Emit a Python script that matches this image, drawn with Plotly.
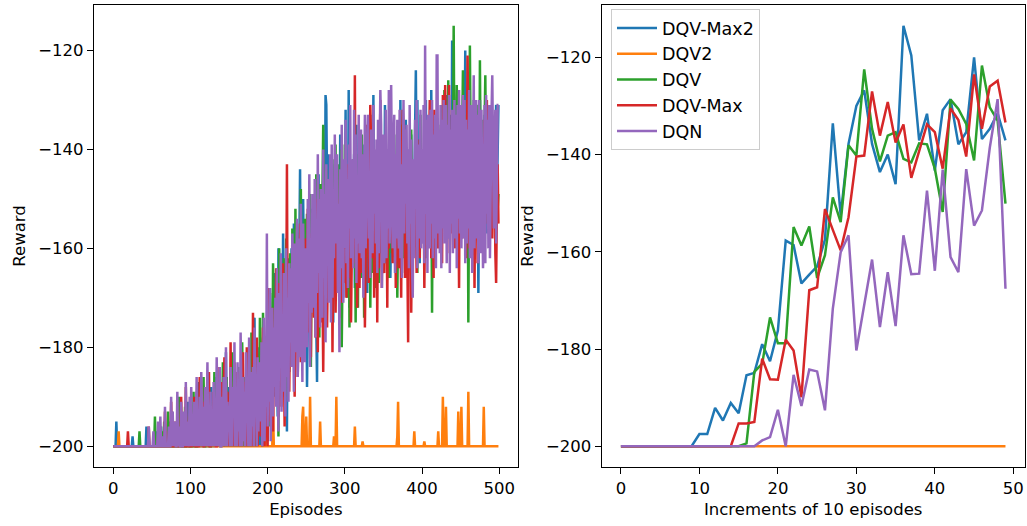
import plotly.graph_objects as go

# ---------------- data: left panel (per-episode reward, 500 episodes) ----------------
episodes = list(range(500))

dqv_max2_ep = [
    -200, -200, -200, -200, -195, -200, -200, -200, -200, -200,
    -200, -200, -200, -200, -200, -200, -200, -200, -200, -200,
    -200, -200, -200, -200, -200, -198, -200, -200, -200, -200,
    -200, -200, -200, -200, -200, -200, -200, -200, -200, -200,
    -200, -200, -200, -196, -200, -200, -200, -200, -200, -200,
    -200, -200, -200, -200, -200, -200, -197, -200, -200, -200,
    -200, -200, -196, -200, -200, -200, -200, -198, -200, -200,
    -200, -200, -200, -195, -200, -200, -193, -200, -200, -200,
    -200, -197, -200, -200, -200, -192, -200, -200, -196, -200,
    -200, -200, -194, -200, -200, -199, -200, -191, -200, -200,
    -200, -195, -200, -198, -200, -193, -200, -200, -189, -200,
    -200, -187, -200, -196, -200, -200, -192, -200, -198, -200,
    -194, -200, -200, -190, -200, -197, -200, -188, -200, -200,
    -200, -192, -186, -200, -195, -200, -199, -200, -191, -200,
    -200, -196, -200, -184, -198, -200, -181, -200, -193, -200,
    -188, -200, -195, -200, -190, -186, -200, -197, -200, -192,
    -200, -185, -200, -191, -197, -200, -183, -200, -189, -195,
    -200, -193, -187, -200, -182, -200, -196, -190, -200, -186,
    -191, -200, -185, -174, -200, -189, -196, -180, -200, -194,
    -187, -200, -183, -192, -178, -200, -186, -190, -195, -181,
    -199, -176, -188, -168, -185, -192, -172, -183, -165, -190,
    -178, -186, -170, -194, -160, -181, -175, -188, -169, -183,
    -157, -174, -190, -166, -182, -197, -171, -162, -185, -176,
    -168, -160, -179, -173, -155, -184, -167, -175, -162, -180,
    -177, -158, -144, -171, -163, -183, -150, -166, -174, -159,
    -162, -188, -170, -155, -149, -176, -165, -152, -169, -160,
    -171, -156, -164, -178, -187, -159, -145, -168, -154, -162,
    -158, -167, -150, -173, -162, -129, -131, -148, -141, -160,
    -152, -170, -163, -146, -158, -175, -154, -143, -166, -150,
    -145, -161, -153, -168, -137, -157, -149, -163, -170, -151,
    -156, -132, -165, -150, -160, -128, -172, -153, -147, -163,
    -149, -159, -141, -168, -152, -135, -157, -163, -144, -158,
    -161, -147, -155, -139, -166, -150, -158, -143, -153, -169,
    -140, -158, -151, -133, -163, -145, -154, -129, -160, -148,
    -152, -166, -143, -157, -138, -149, -161, -146, -155, -142,
    -147, -156, -131, -150, -163, -141, -152, -158, -134, -166,
    -155, -139, -160, -148, -153, -144, -162, -150, -137, -157,
    -141, -163, -130, -156, -136, -158, -145, -152, -165, -134,
    -160, -146, -153, -140, -158, -149, -137, -161, -150, -144,
    -148, -135, -124, -145, -130, -152, -140, -163, -155, -142,
    -151, -143, -159, -137, -148, -130, -155, -146, -139, -158,
    -139, -154, -128, -160, -136, -149, -142, -157, -133, -150,
    -147, -138, -152, -141, -158, -135, -149, -144, -153, -140,
    -136, -150, -129, -143, -155, -139, -147, -133, -152, -118,
    -144, -132, -149, -138, -156, -141, -135, -150, -146, -137,
    -140, -153, -135, -148, -131, -145, -120, -151, -138, -143,
    -149, -136, -144, -158, -133, -142, -151, -139, -147, -134,
    -137, -152, -141, -169, -146, -130, -144, -155, -138, -149,
    -145, -133, -150, -140, -157, -136, -148, -142, -153, -139,
    -141, -148, -135, -152, -144, -139, -131, -150, -137, -131,
]

dqv2_ep = [
    -200, -200, -200, -200, -200, -200, -200, -197, -200, -200, -200, -200, -200, -200, -200, -200, -200, -200, -200, -200,
    -200, -200, -200, -200, -200, -200, -200, -200, -200, -200, -200, -200, -200, -200, -200, -200, -200, -200, -200, -200,
    -200, -200, -200, -200, -200, -200, -200, -200, -200, -200, -200, -200, -200, -200, -200, -200, -200, -200, -200, -200,
    -200, -200, -200, -200, -200, -200, -200, -200, -200, -200, -200, -200, -200, -200, -200, -200, -200, -200, -200, -200,
    -200, -200, -200, -200, -200, -200, -200, -200, -200, -200, -200, -200, -200, -200, -200, -200, -200, -200, -200, -200,
    -200, -200, -200, -200, -200, -200, -200, -200, -200, -200, -200, -200, -200, -200, -200, -200, -200, -200, -200, -200,
    -200, -200, -200, -200, -200, -200, -200, -200, -200, -200, -200, -200, -200, -200, -200, -200, -200, -200, -200, -200,
    -200, -200, -200, -200, -200, -200, -200, -200, -200, -200, -200, -200, -200, -200, -200, -200, -200, -200, -200, -200,
    -200, -200, -200, -200, -200, -200, -200, -200, -200, -200, -200, -200, -200, -200, -200, -200, -200, -200, -200, -200,
    -200, -200, -200, -200, -200, -200, -200, -200, -200, -200, -200, -200, -200, -200, -200, -200, -200, -195, -200, -200,
    -200, -200, -200, -200, -200, -200, -200, -192, -200, -200, -200, -200, -200, -200, -200, -200, -200, -200, -200, -200,
    -200, -200, -200, -200, -200, -200, -200, -200, -200, -200, -200, -200, -200, -200, -200, -200, -200, -200, -200, -200,
    -200, -200, -200, -200, -200, -194, -192, -200, -200, -200, -194, -200, -200, -200, -200, -190, -200, -200, -200, -200,
    -200, -200, -200, -200, -200, -200, -200, -200, -195, -200, -200, -200, -200, -200, -200, -200, -200, -200, -200, -200,
    -200, -200, -200, -200, -200, -200, -198, -200, -200, -190, -200, -200, -200, -200, -200, -200, -200, -200, -200, -200,
    -200, -200, -200, -200, -200, -200, -200, -200, -200, -200, -200, -200, -200, -196, -200, -200, -200, -200, -200, -200,
    -200, -200, -200, -199, -200, -200, -200, -200, -200, -200, -200, -200, -200, -200, -200, -200, -200, -200, -200, -200,
    -200, -200, -200, -200, -200, -200, -200, -200, -200, -200, -200, -200, -200, -200, -200, -200, -200, -200, -200, -200,
    -200, -200, -200, -200, -200, -200, -200, -200, -198, -191, -200, -200, -200, -200, -200, -200, -200, -200, -200, -200,
    -200, -200, -200, -200, -200, -200, -200, -200, -200, -200, -197, -200, -200, -200, -200, -200, -200, -200, -200, -200,
    -200, -200, -200, -199, -200, -200, -200, -200, -200, -200, -200, -200, -200, -200, -200, -200, -200, -200, -200, -200,
    -200, -197, -200, -200, -200, -200, -200, -190, -200, -200, -200, -192, -200, -200, -200, -200, -200, -200, -200, -200,
    -200, -200, -200, -200, -200, -200, -200, -193, -200, -200, -200, -192, -200, -200, -200, -200, -200, -200, -200, -200,
    -189, -200, -200, -200, -200, -200, -200, -200, -200, -200, -200, -200, -200, -200, -200, -200, -200, -200, -200, -200,
    -192, -200, -200, -200, -200, -200, -200, -200, -200, -200, -200, -200, -200, -200, -200, -200, -200, -200, -200, -200,
]

dqv_ep = [
    -200, -200, -200, -200, -200, -200, -200, -200, -200, -200,
    -200, -200, -200, -200, -200, -200, -200, -200, -200, -200,
    -200, -200, -200, -200, -200, -200, -200, -200, -200, -200,
    -200, -200, -200, -200, -197, -200, -200, -200, -200, -200,
    -200, -200, -200, -200, -200, -200, -200, -200, -200, -200,
    -200, -200, -200, -200, -194, -200, -200, -200, -200, -200,
    -200, -200, -200, -197, -200, -200, -195, -200, -200, -200,
    -200, -193, -200, -200, -198, -200, -200, -200, -196, -200,
    -200, -200, -195, -200, -200, -190, -200, -198, -200, -200,
    -197, -200, -200, -192, -200, -200, -199, -200, -194, -200,
    -200, -196, -200, -200, -189, -200, -193, -200, -200, -197,
    -200, -190, -200, -195, -200, -199, -200, -186, -200, -200,
    -193, -200, -197, -200, -188, -200, -200, -194, -200, -191,
    -200, -185, -200, -196, -200, -190, -198, -200, -187, -200,
    -195, -200, -183, -200, -199, -192, -200, -186, -200, -197,
    -200, -189, -194, -200, -181, -200, -195, -200, -188, -200,
    -192, -200, -184, -197, -200, -187, -200, -179, -196, -200,
    -186, -199, -200, -182, -193, -200, -188, -195, -200, -177,
    -200, -190, -176, -196, -185, -200, -181, -198, -187, -193,
    -174, -195, -188, -200, -173, -186, -197, -180, -192, -184,
    -190, -178, -196, -169, -184, -175, -192, -163, -181, -188,
    -171, -186, -165, -179, -198, -160, -176, -184, -168, -174,
    -183, -162, -175, -190, -158, -170, -186, -166, -179, -161,
    -168, -177, -156, -172, -164, -187, -152, -175, -166, -180,
    -159, -170, -181, -148, -167, -157, -176, -163, -154, -172,
    -165, -153, -176, -161, -170, -149, -184, -158, -167, -156,
    -151, -168, -160, -145, -173, -163, -155, -178, -147, -162,
    -160, -149, -135, -166, -153, -171, -144, -158, -163, -150,
    -146, -162, -155, -170, -142, -157, -164, -151, -139, -168,
    -158, -143, -165, -152, -160, -140, -180, -155, -149, -162,
    -139, -156, -147, -170, -153, -144, -176, -151, -161, -148,
    -157, -142, -163, -150, -175, -146, -158, -172, -141, -155,
    -148, -166, -137, -158, -151, -174, -145, -160, -153, -143,
    -162, -150, -144, -172, -156, -139, -165, -149, -157, -168,
    -145, -158, -152, -141, -167, -155, -133, -160, -147, -153,
    -159, -138, -155, -148, -163, -143, -151, -166, -140, -157,
    -150, -161, -145, -156, -137, -158, -147, -154, -170, -143,
    -141, -155, -160, -135, -152, -146, -162, -139, -157, -149,
    -156, -144, -150, -163, -141, -158, -136, -153, -147, -161,
    -146, -159, -137, -152, -165, -142, -155, -148, -133, -157,
    -153, -140, -158, -145, -150, -162, -138, -156, -143, -149,
    -144, -157, -147, -173, -139, -153, -148, -160, -142, -151,
    -158, -135, -150, -143, -156, -131, -152, -140, -147, -128,
    -139, -152, -145, -158, -126, -149, -137, -154, -143, -150,
    -148, -115, -142, -136, -151, -127, -145, -139, -132, -153,
    -143, -150, -138, -124, -147, -141, -156, -133, -149, -136,
    -175, -145, -119, -140, -152, -137, -148, -130, -144, -141,
    -138, -152, -144, -131, -155, -122, -146, -139, -150, -134,
    -147, -136, -125, -143, -151, -140, -133, -148, -137, -145,
    -142, -139, -151, -135, -146, -143, -138, -147, -152, -149,
]

dqv_max_ep = [
    -200, -200, -200, -200, -200, -200, -200, -200, -200, -200,
    -200, -200, -200, -200, -200, -200, -200, -200, -200, -197,
    -200, -200, -200, -200, -200, -200, -200, -200, -200, -200,
    -200, -200, -200, -200, -200, -200, -200, -200, -200, -200,
    -200, -200, -200, -200, -200, -200, -196, -200, -200, -200,
    -200, -200, -200, -200, -200, -200, -200, -200, -198, -200,
    -200, -196, -200, -200, -200, -200, -200, -193, -200, -200,
    -200, -200, -197, -200, -200, -191, -200, -200, -200, -195,
    -200, -200, -200, -194, -200, -200, -198, -200, -190, -200,
    -200, -196, -200, -200, -188, -200, -200, -195, -200, -200,
    -193, -200, -200, -197, -200, -190, -200, -200, -194, -200,
    -200, -200, -186, -200, -196, -200, -191, -200, -200, -188,
    -200, -193, -200, -199, -185, -200, -200, -192, -197, -200,
    -189, -200, -196, -200, -200, -184, -200, -195, -200, -191,
    -200, -187, -200, -193, -182, -200, -198, -200, -189, -200,
    -196, -200, -179, -200, -191, -197, -200, -183, -200, -193,
    -200, -185, -195, -200, -188, -200, -192, -200, -181, -198,
    -187, -200, -196, -180, -200, -190, -199, -185, -200, -194,
    -200, -173, -192, -200, -186, -197, -178, -200, -190, -195,
    -184, -198, -189, -200, -176, -193, -200, -187, -182, -196,
    -200, -168, -186, -195, -179, -190, -172, -197, -183, -176,
    -188, -164, -180, -173, -194, -167, -185, -178, -192, -170,
    -163, -181, -196, -168, -176, -143, -182, -171, -189, -174,
    -177, -166, -184, -159, -172, -190, -165, -179, -161, -186,
    -169, -175, -155, -183, -163, -178, -160, -171, -180, -158,
    -165, -172, -152, -177, -168, -160, -182, -157, -170, -163,
    -174, -161, -178, -150, -166, -181, -156, -169, -162, -175,
    -158, -167, -185, -154, -149, -172, -163, -176, -160, -152,
    -166, -155, -170, -146, -181, -159, -164, -153, -173, -161,
    -150, -168, -157, -174, -145, -163, -171, -156, -148, -167,
    -162, -149, -170, -155, -143, -166, -158, -151, -175, -159,
    -147, -163, -154, -125, -160, -150, -172, -157, -145, -168,
    -156, -144, -165, -152, -161, -141, -176, -153, -148, -135,
    -151, -167, -146, -131, -139, -162, -155, -143, -170, -157,
    -160, -142, -175, -149, -164, -138, -130, -150, -168, -146,
    -153, -165, -140, -157, -148, -172, -145, -160, -151, -137,
    -145, -158, -163, -139, -154, -149, -168, -142, -156, -161,
    -164, -148, -155, -170, -143, -132, -135, -152, -166, -147,
    -150, -162, -179, -144, -157, -141, -173, -155, -146, -160,
    -159, -147, -152, -165, -138, -156, -149, -162, -140, -154,
    -146, -157, -143, -168, -151, -136, -160, -145, -155, -142,
    -130, -138, -162, -149, -144, -166, -132, -158, -150, -147,
    -143, -160, -151, -137, -157, -146, -163, -129, -152, -141,
    -127, -145, -139, -154, -148, -127, -161, -150, -142, -157,
    -140, -153, -147, -160, -135, -156, -144, -149, -168, -138,
    -152, -144, -158, -146, -146, -155, -139, -162, -148, -121,
    -137, -160, -149, -142, -156, -132, -151, -145, -168, -147,
    -154, -141, -163, -148, -136, -159, -145, -152, -140, -157,
    -146, -134, -155, -143, -130, -150, -139, -157, -144, -151,
    -149, -158, -140, -153, -145, -161, -167, -152, -143, -155,
]

dqn_ep = [
    -200, -200, -200, -200, -200, -200, -200, -200, -200, -200,
    -200, -200, -200, -200, -200, -200, -200, -200, -200, -200,
    -200, -200, -200, -200, -200, -200, -200, -200, -200, -200,
    -200, -200, -200, -200, -200, -200, -200, -200, -200, -200,
    -200, -200, -200, -200, -200, -200, -196, -200, -200, -200,
    -200, -200, -197, -200, -200, -200, -200, -200, -195, -200,
    -200, -194, -200, -200, -198, -200, -200, -192, -200, -200,
    -200, -200, -196, -200, -200, -190, -200, -193, -200, -197,
    -195, -200, -200, -189, -200, -196, -200, -200, -191, -200,
    -200, -193, -198, -200, -187, -200, -195, -200, -199, -190,
    -200, -188, -200, -194, -200, -191, -197, -200, -186, -200,
    -196, -200, -190, -200, -185, -199, -200, -192, -200, -188,
    -200, -194, -183, -200, -197, -200, -189, -200, -193, -200,
    -187, -200, -195, -200, -182, -192, -200, -198, -184, -200,
    -200, -190, -200, -186, -196, -200, -180, -200, -191, -195,
    -193, -200, -184, -199, -200, -188, -194, -179, -200, -190,
    -200, -183, -197, -191, -200, -177, -193, -200, -186, -199,
    -189, -200, -181, -195, -190, -200, -178, -194, -200, -185,
    -196, -184, -200, -176, -193, -188, -200, -182, -197, -190,
    -183, -195, -179, -200, -188, -174, -199, -186, -192, -157,
    -196, -178, -191, -168, -199, -183, -172, -194, -176, -188,
    -170, -192, -164, -186, -197, -169, -183, -161, -193, -175,
    -189, -165, -181, -194, -160, -186, -170, -191, -163, -179,
    -164, -184, -157, -179, -189, -159, -181, -167, -154, -186,
    -178, -158, -182, -151, -173, -187, -155, -170, -183, -160,
    -162, -180, -150, -171, -145, -184, -158, -173, -149, -166,
    -172, -146, -178, -155, -169, -141, -165, -150, -176, -148,
    -153, -174, -140, -166, -149, -179, -143, -163, -146, -171,
    -167, -141, -175, -139, -170, -151, -162, -137, -159, -147,
    -141, -169, -151, -181, -144, -164, -135, -158, -171, -142,
    -160, -134, -163, -146, -168, -139, -156, -131, -162, -147,
    -142, -164, -132, -158, -137, -167, -146, -159, -133, -161,
    -156, -136, -162, -141, -170, -150, -133, -160, -144, -139,
    -133, -158, -145, -166, -136, -155, -161, -131, -153, -140,
    -159, -138, -165, -134, -161, -142, -128, -135, -168, -148,
    -137, -163, -149, -132, -162, -140, -156, -128, -159, -152,
    -127, -144, -160, -139, -133, -165, -141, -158, -134, -155,
    -160, -132, -162, -143, -166, -148, -130, -157, -136, -151,
    -135, -159, -140, -164, -131, -155, -138, -163, -170, -142,
    -162, -134, -152, -130, -164, -139, -158, -145, -132, -160,
    -140, -159, -131, -163, -119, -153, -134, -165, -133, -156,
    -160, -132, -155, -130, -162, -137, -158, -133, -164, -121,
    -121, -157, -136, -161, -131, -164, -134, -156, -130, -159,
    -149, -131, -163, -135, -158, -129, -165, -136, -155, -132,
    -161, -137, -130, -158, -133, -164, -131, -154, -128, -157,
    -131, -160, -140, -129, -158, -130, -163, -134, -159, -136,
    -156, -128, -162, -138, -131, -165, -135, -125, -160, -133,
    -130, -158, -133, -163, -130, -156, -161, -132, -153, -164,
    -158, -131, -163, -129, -153, -134, -160, -131, -162, -137,
    -133, -125, -148, -156, -138, -132, -159, -135, -131, -131,
]

# ---------------- data: right panel (mean over increments of 10 episodes) ----------------
increments = list(range(50))

dqv_max2_inc = [
    -200, -200, -200, -200, -200, -200, -200, -200, -200, -200,
    -197.5, -197.5, -192.1, -194.7, -191.1, -193.2, -185.4, -184.9, -179.0, -182.5,
    -176.2, -157.7, -158.6, -166.5, -164.7, -163.0, -157.5, -133.6, -152.5, -137.8,
    -130.0, -126.8, -137.8, -143.6, -140.0, -146.1, -113.5, -119.6, -137.1, -131.6,
    -143.3, -130.9, -128.6, -137.9, -135.4, -120.0, -136.8, -134.7, -131.5, -137.1,
]

dqv2_inc = [
    -200, -200, -200, -200, -200, -200, -200, -200, -200, -200,
    -200, -200, -200, -200, -200, -200, -200, -200, -200, -200,
    -200, -200, -200, -200, -200, -200, -200, -200, -200, -200,
    -200, -200, -200, -200, -200, -200, -200, -200, -200, -200,
    -200, -200, -200, -200, -200, -200, -200, -200, -200, -200,
]

dqv_inc = [
    -200, -200, -200, -200, -200, -200, -200, -200, -200, -200,
    -200, -200, -200, -200, -200, -200, -199.4, -184.7, -183.0, -173.5,
    -178.8, -178.8, -154.9, -158.7, -154.8, -165.4, -160.7, -148.8, -153.9, -138.1,
    -140.2, -122.5, -134.7, -141.4, -136.1, -135.4, -140.9, -141.6, -137.7, -137.9,
    -142.9, -151.8, -128.7, -130.6, -133.7, -141.2, -121.7, -130.3, -133.0, -150.1,
]

dqv_max_inc = [
    -200, -200, -200, -200, -200, -200, -200, -200, -200, -200,
    -200, -200, -200, -200, -200, -195.3, -195.3, -195.0, -182.0, -186.2,
    -186.3, -178.1, -180.3, -189.9, -167.9, -167.3, -151.2, -155.5, -159.7, -152.9,
    -140.4, -140.2, -127.0, -136.1, -129.2, -137.5, -133.8, -144.8, -139.3, -133.8,
    -135.4, -142.9, -130.5, -132.9, -140.4, -123.5, -134.7, -126.0, -124.8, -133.4,
]

dqn_inc = [
    -200, -200, -200, -200, -200, -200, -200, -200, -200, -200,
    -200, -200, -200, -200, -200, -200, -200, -200, -198.8, -198.1,
    -192.5, -200, -185.3, -191.7, -184.2, -184.6, -192.6, -171.7, -160.1, -156.6,
    -180.3, -170.6, -161.6, -175.5, -164.2, -175.3, -156.6, -164.6, -164.5, -147.4,
    -163.9, -143.1, -161.1, -164.2, -143.0, -154.6, -151.5, -138.6, -128.6, -167.6,
]

names = ["DQV-Max2", "DQV2", "DQV", "DQV-Max", "DQN"]
colors = ["#1f77b4", "#ff7f0e", "#2ca02c", "#d62728", "#9467bd"]
left_series = [dqv_max2_ep, dqv2_ep, dqv_ep, dqv_max_ep, dqn_ep]
right_series = [dqv_max2_inc, dqv2_inc, dqv_inc, dqv_max_inc, dqn_inc]

y_tick_vals = [-200, -180, -160, -140, -120]
y_tick_text = ["\u2212200", "\u2212180", "\u2212160", "\u2212140", "\u2212120"]
x1_tick_vals = [0, 100, 200, 300, 400, 500]
x2_tick_vals = [0, 10, 20, 30, 40, 50]


def padded(lo, hi, frac=0.05):
    span = hi - lo
    return [lo - frac * span, hi + frac * span]


fig = go.Figure()
for name, color, ys in zip(names, colors, left_series):
    fig.add_trace(go.Scatter(x=episodes, y=ys, mode="lines", name=name,
                             line=dict(color=color, width=2.5),
                             showlegend=False, xaxis="x", yaxis="y"))
for name, color, ys in zip(names, colors, right_series):
    fig.add_trace(go.Scatter(x=increments, y=ys, mode="lines", name=name,
                             line=dict(color=color, width=2.5),
                             showlegend=True, xaxis="x2", yaxis="y2"))

all_left = [v for s in left_series for v in s]
all_right = [v for s in right_series for v in s]

FONT = "DejaVu Sans"
FS = 16.5

axis_common = dict(showline=True, linecolor="black", linewidth=1.3, mirror=True,
                   ticks="outside", ticklen=6, tickwidth=1.3, tickcolor="black",
                   showgrid=False, zeroline=False,
                   tickfont=dict(family=FONT, size=FS, color="black"))

fig.update_layout(
    width=1027, height=526,
    margin=dict(l=0, r=0, t=0, b=0),
    paper_bgcolor="white", plot_bgcolor="white",
    font=dict(family=FONT, size=FS, color="black"),
    xaxis=dict(domain=[94 / 1027, 517.7 / 1027], anchor="y",
               range=padded(min(episodes), max(episodes)),
               tickvals=x1_tick_vals,
               title=dict(text="Episodes", font=dict(family=FONT, size=FS), standoff=6),
               **axis_common),
    yaxis=dict(domain=[1 - 467.3 / 526, 1 - 4.7 / 526], anchor="x",
               range=padded(min(all_left), max(all_left)),
               tickvals=y_tick_vals, ticktext=y_tick_text,
               title=dict(text="Reward", font=dict(family=FONT, size=FS), standoff=8),
               **axis_common),
    xaxis2=dict(domain=[601.7 / 1027, 1024.7 / 1027], anchor="y2",
                range=padded(min(increments), max(increments)),
                tickvals=x2_tick_vals,
                title=dict(text="Increments of 10 episodes", font=dict(family=FONT, size=FS), standoff=6),
                **axis_common),
    yaxis2=dict(domain=[1 - 467.3 / 526, 1 - 4.7 / 526], anchor="x2",
                range=padded(min(all_right), max(all_right)),
                tickvals=y_tick_vals, ticktext=y_tick_text,
                title=dict(text="Reward", font=dict(family=FONT, size=FS), standoff=8),
                **axis_common),
    legend=dict(x=611 / 1027, y=1 - 9 / 526, xanchor="left", yanchor="top",
                bgcolor="rgba(255,255,255,0.8)", bordercolor="#cccccc", borderwidth=1,
                font=dict(family=FONT, size=17.5, color="black"),
                itemwidth=40, tracegroupgap=0),
)

fig.write_html(
    "out.html",
    config={"displayModeBar": False},
    post_script="document.body.style.margin='0px';document.body.style.overflow='hidden';",
)
